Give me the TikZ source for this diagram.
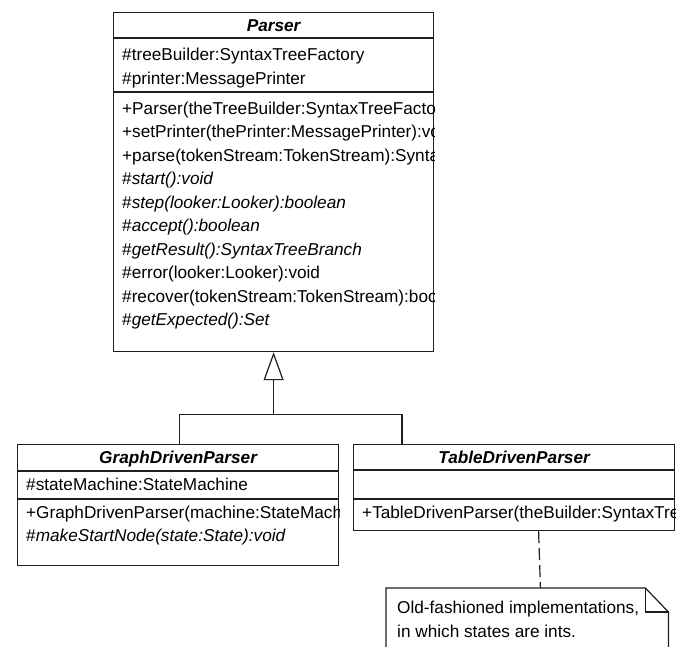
\documentclass[tikz,border=0pt]{standalone}
\usepackage{fontspec}
\setmainfont{Liberation Sans}
\definecolor{umlline}{RGB}{30,30,30}
\usetikzlibrary{positioning, calc, arrows.meta}

\begin{document}
\begin{tikzpicture}[
        x=1pt, y=-1pt,
        classbox/.style={rectangle, draw=umlline, line width=1.2pt, anchor=north west, inner sep=0pt},
        notebox/.style={rectangle, anchor=north west, inner sep=0pt},
        classname/.style={font=\fontsize{17.2}{20}\selectfont\bfseries\itshape, anchor=base, inner sep=0pt},
        member/.style={font=\fontsize{17.2}{20}\selectfont, anchor=base west, inner sep=0pt},
        compartment/.style={draw=umlline, line width=1.2pt},
        inherit/.style={-{Triangle[open, length=28pt, width=20pt]}, draw=umlline, line width=1.2pt},
        link/.style={draw=umlline, line width=1.2pt},
        anchorline/.style={draw=umlline, line width=1.2pt, dash pattern=on 12pt off 5pt}
    ]
        \useasboundingbox (0,0) rectangle (679,646);

        % Abstract base class
        \node[classbox, minimum width=320pt, minimum height=339pt] (PARSER) at (113,12) {};
        \node[classname] at ([yshift=-19pt]PARSER.north) {Parser};
        \draw[compartment] ([yshift=-26pt]PARSER.north west) -- ([yshift=-26pt]PARSER.north east);
        \draw[compartment] ([yshift=-80pt]PARSER.north west) -- ([yshift=-80pt]PARSER.north east);
        \begin{scope}
            \clip (PARSER.north west) rectangle (PARSER.south east);
            \node[member] at (122,60.5) {\#treeBuilder:SyntaxTreeFactory};
            \node[member] at (122,84) {\#printer:MessagePrinter};
            \node[member] at (122,114) {+Parser(theTreeBuilder:SyntaxTreeFactory):void};
            \node[member] at (122,137.5) {+setPrinter(thePrinter:MessagePrinter):void};
            \node[member] at (122,161) {+parse(tokenStream:TokenStream):SyntaxTreeBranch};
            \node[member] at (122,184.5) {\#\textit{start():void}};
            \node[member] at (122,208) {\#\textit{step(looker:Looker):boolean}};
            \node[member] at (122,231.5) {\#\textit{accept():boolean}};
            \node[member] at (122,255) {\#\textit{getResult():SyntaxTreeBranch}};
            \node[member] at (122,278.5) {\#error(looker:Looker):void};
            \node[member] at (122,302) {\#recover(tokenStream:TokenStream):boolean};
            \node[member] at (122,325.5) {\#\textit{getExpected():Set}};
        \end{scope}

        % Subclasses
        \node[classbox, minimum width=321pt, minimum height=121pt] (GRAPH) at (17,444) {};
        \node[classname] at ([yshift=-19pt]GRAPH.north) {GraphDrivenParser};
        \draw[compartment] ([yshift=-27pt]GRAPH.north west) -- ([yshift=-27pt]GRAPH.north east);
        \draw[compartment] ([yshift=-55pt]GRAPH.north west) -- ([yshift=-55pt]GRAPH.north east);
        \begin{scope}
            \clip (GRAPH.north west) rectangle (GRAPH.south east);
            \node[member] at (26,490.5) {\#stateMachine:StateMachine};
            \node[member] at (26,518) {+GraphDrivenParser(machine:StateMachine)};
            \node[member] at (26,541.5) {\#\textit{makeStartNode(state:State):void}};
        \end{scope}

        \node[classbox, minimum width=321pt, minimum height=86pt] (TABLE) at (353,444) {};
        \node[classname] at ([yshift=-19pt]TABLE.north) {TableDrivenParser};
        \draw[compartment] ([yshift=-26pt]TABLE.north west) -- ([yshift=-26pt]TABLE.north east);
        \draw[compartment] ([yshift=-55pt]TABLE.north west) -- ([yshift=-55pt]TABLE.north east);
        \begin{scope}
            \clip (TABLE.north west) rectangle (TABLE.south east);
            \node[member] at (362,518) {+TableDrivenParser(theBuilder:SyntaxTreeFactory)};
        \end{scope}

        % Generalization
        \coordinate (JOIN) at ([yshift=-62pt]PARSER.south);
        \draw[inherit] (JOIN) -- (PARSER.south);
        \draw[link] ([xshift=1pt]GRAPH.north) |- (JOIN) -| ([xshift=49pt]TABLE.north west);

        % Note
        \node[notebox, minimum width=282pt, minimum height=90pt] (NOTE) at (386,588) {};
        \draw[link] (NOTE.south west) -- (NOTE.north west) -- ([xshift=-23pt]NOTE.north east)
            -- ([yshift=-24pt]NOTE.north east) -- (NOTE.south east);
        \draw[link] ([xshift=-23pt]NOTE.north east) |- ([yshift=-24pt]NOTE.north east);
        \node[member] at (397,613) {Old-fashioned implementations,};
        \node[member] at (397,637) {in which states are ints.};
        \draw[anchorline] ([xshift=24.5pt]TABLE.south) -- ([xshift=-128pt]NOTE.north east);
    \end{tikzpicture}
\end{document}
